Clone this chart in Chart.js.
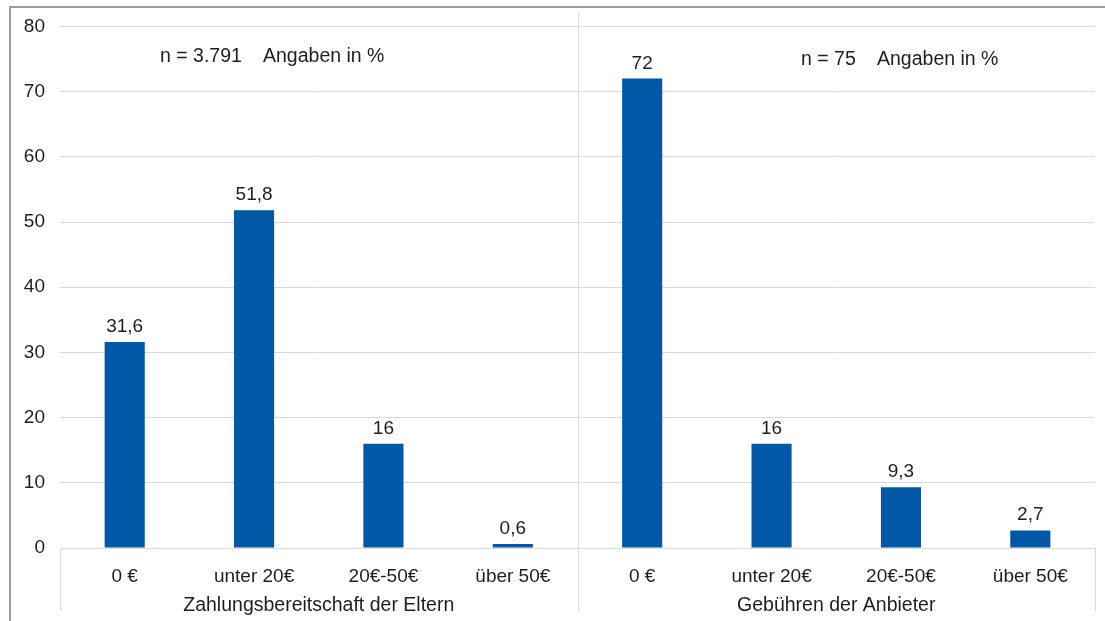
<!DOCTYPE html>
<html>
<head>
<meta charset="utf-8">
<script src="https://cdn.jsdelivr.net/npm/chart.js@4/dist/chart.umd.min.js"></script>
<style>
html,body{margin:0;padding:0;background:#fff;}
#wrap{position:relative;width:1105px;height:621px;}
</style>
</head>
<body>
<div id="wrap"><canvas id="c" width="1105" height="621"></canvas></div>
<script>
const categories = ["0 €", "unter 20€", "20€-50€", "über 50€", "0 €", "unter 20€", "20€-50€", "über 50€"];
const groups = ["Zahlungsbereitschaft der Eltern", "Gebühren der Anbieter"];
const groupSizes = [4, 4];
const values = [31.6, 51.8, 16, 0.6, 72, 16, 9.3, 2.7];
const valueLabels = ["31,6", "51,8", "16", "0,6", "72", "16", "9,3", "2,7"];
const notes = [
  {n: "n = 3.791", t: "Angaben in %"},
  {n: "n = 75", t: "Angaben in %"}
];
const yTicks = [0, 10, 20, 30, 40, 50, 60, 70, 80];

const FONT = '"Liberation Sans", Arial, sans-serif';
const TXT = '#1e1e1e';
const GRID = '#d9d9d9';

const extras = {
  id: 'extras',
  afterDraw(chart) {
    const ctx = chart.ctx;
    const a = chart.chartArea;
    const xs = chart.scales.x;
    const meta = chart.getDatasetMeta(0);
    ctx.save();
    // outer frame
    ctx.strokeStyle = '#9a9a9a';
    ctx.lineWidth = 2;
    ctx.beginPath();
    ctx.moveTo(10, 621);
    ctx.lineTo(10, 7);
    ctx.lineTo(1105, 7);
    ctx.stroke();
    // category box lines
    ctx.strokeStyle = GRID;
    ctx.lineWidth = 1;
    const half = (xs.getPixelForValue(1) - xs.getPixelForValue(0)) / 2;
    let idx = 0;
    const bounds = [xs.getPixelForValue(0) - half];
    groupSizes.forEach(s => { idx += s; bounds.push(xs.getPixelForValue(idx - 1) + half); });
    ctx.beginPath();
    ctx.moveTo(a.left, a.bottom + 0.5);
    ctx.lineTo(a.right, a.bottom + 0.5);
    bounds.forEach((b, i) => {
      const x = Math.round(b) + 0.5;
      const top = (i === 0 || i === bounds.length - 1) ? a.bottom : a.top - 14;
      ctx.moveTo(x, top);
      ctx.lineTo(x, 611);
    });
    ctx.stroke();
    // group labels and notes
    ctx.fillStyle = TXT;
    ctx.font = '19.5px ' + FONT;
    ctx.textAlign = 'center';
    ctx.textBaseline = 'middle';
    groups.forEach((g, i) => {
      ctx.fillText(g, (bounds[i] + bounds[i + 1]) / 2, 606);
    });
    const noteX = [[160, 263], [801, 877]];
    const noteY = [57, 60];
    ctx.textAlign = 'left';
    notes.forEach((nt, i) => {
      ctx.fillText(nt.n, noteX[i][0], noteY[i]);
      ctx.fillText(nt.t, noteX[i][1], noteY[i]);
    });
    // value labels
    ctx.font = '19px ' + FONT;
    ctx.textAlign = 'center';
    ctx.textBaseline = 'alphabetic';
    meta.data.forEach((bar, i) => {
      ctx.fillText(valueLabels[i], bar.x, bar.y - 10);
    });
    ctx.restore();
  }
};

new Chart(document.getElementById('c'), {
  type: 'bar',
  data: {
    labels: categories,
    datasets: [{
      data: values,
      backgroundColor: '#0058a7',
      borderWidth: 0,
      barPercentage: 0.62,
      categoryPercentage: 0.5
    }]
  },
  options: {
    responsive: false,
    animation: false,
    devicePixelRatio: 1,
    layout: {padding: {left: 10, right: 10, top: 26, bottom: 0}},
    plugins: {legend: {display: false}, tooltip: {enabled: false}},
    scales: {
      y: {
        min: 0, max: 80,
        afterFit(s) { s.width = 50; },
        afterBuildTicks(s) { s.ticks = yTicks.map(v => ({value: v})); },
        grid: {color: GRID, drawTicks: false, lineWidth: 1},
        border: {display: false},
        ticks: {color: TXT, font: {size: 19, family: FONT}, padding: 15}
      },
      x: {
        afterFit(s) { s.height = 73; },
        grid: {display: false, drawTicks: false},
        border: {display: false},
        ticks: {color: TXT, font: {size: 19, family: FONT}, padding: 17, maxRotation: 0, autoSkip: false}
      }
    }
  },
  plugins: [extras]
});
</script>
</body>
</html>
